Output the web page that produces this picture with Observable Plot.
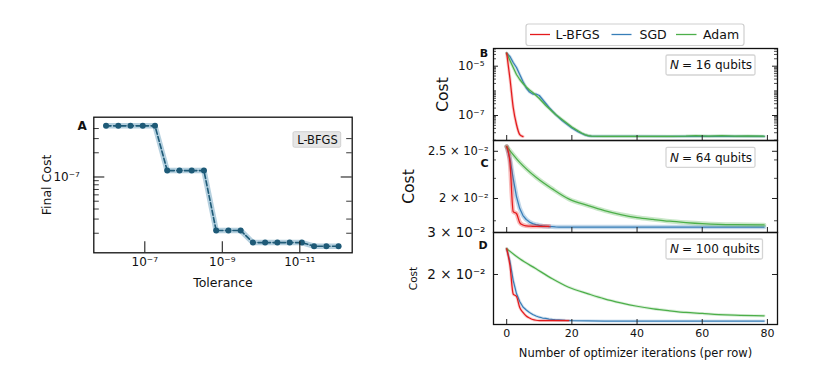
<!DOCTYPE html>
<html><head><meta charset="utf-8">
<script src="https://cdn.jsdelivr.net/npm/d3@7"></script>
<script src="https://cdn.jsdelivr.net/npm/@observablehq/plot@0.6"></script>
<style>
body{margin:0;background:#fff;}
#root{position:relative;width:830px;height:388px;background:#fff;font-family:"DejaVu Sans",sans-serif;}
#root svg{position:absolute;left:0;top:0;overflow:visible;}
</style></head><body><div id="root"></div>
<script>
// ---------------- DATA ----------------
// Panel A: final cost vs tolerance (L-BFGS)
const tolerances = [1e-6, 4.83e-7, 2.34e-7, 1.13e-7, 5.46e-8, 2.64e-8, 1.27e-8, 6.16e-9, 2.98e-9, 1.44e-9, 6.95e-10, 3.36e-10, 1.62e-10, 7.85e-11, 3.79e-11, 1.83e-11, 8.86e-12, 4.28e-12, 2.07e-12, 1e-12];
const finalCost = [4.32e-7, 4.32e-7, 4.32e-7, 4.32e-7, 4.32e-7, 1.20e-7, 1.20e-7, 1.20e-7, 1.20e-7, 2.16e-8, 2.16e-8, 2.16e-8, 1.53e-8, 1.53e-8, 1.53e-8, 1.53e-8, 1.53e-8, 1.38e-8, 1.38e-8, 1.38e-8];

// Panel B: N = 16 qubits
const itB_lbfgs = [0, 1, 2, 3, 4, 5];
const costB_lbfgs = [3.37e-5, 3.17e-6, 2.11e-7, 4.31e-8, 1.69e-8, 1.40e-8];
const itB_sgd = [0,1,2,3,4,5,6,7,8,9,10,11,12,13,14,15,16,17,18,19,20,21,22,23,24,25,26,30,40,50,60,70,79];
const costB_sgd = [3.37e-5, 2.47e-5, 1.41e-5, 8.86e-6, 4.60e-6, 2.39e-6, 1.30e-6, 8.98e-7, 7.45e-7, 7.45e-7, 6.48e-7, 4.46e-7, 3.07e-7, 2.11e-7, 1.52e-7, 1.10e-7, 8.30e-8, 6.27e-8, 4.96e-8, 3.93e-8, 3.11e-8, 2.58e-8, 2.14e-8, 1.86e-8, 1.62e-8, 1.50e-8, 1.45e-8, 1.43e-8, 1.43e-8, 1.42e-8, 1.43e-8, 1.43e-8, 1.42e-8];
const itB_adam = [0,1,2,3,4,5,6,7,8,9,10,11,12,13,14,15,16,17,18,19,20,21,22,23,24,25,26,30,40,50,55,58,62,66,70,74,79];
const costB_adam = [3.37e-5, 1.70e-5, 8.86e-6, 4.60e-6, 2.89e-6, 1.99e-6, 1.43e-6, 1.08e-6, 8.57e-7, 6.48e-7, 4.89e-7, 3.53e-7, 2.54e-7, 1.92e-7, 1.45e-7, 1.10e-7, 8.69e-8, 6.88e-8, 5.45e-8, 4.31e-8, 3.42e-8, 2.83e-8, 2.35e-8, 1.95e-8, 1.69e-8, 1.54e-8, 1.47e-8, 1.43e-8, 1.44e-8, 1.43e-8, 1.46e-8, 1.51e-8, 1.45e-8, 1.52e-8, 1.45e-8, 1.49e-8, 1.44e-8];

// Panel C: N = 64 qubits
const itC_lbfgs = [0,1,2,3,4,5,6,7,8,9,10,11,12,13];
const costC_lbfgs = [2.557e-2, 2.370e-2, 1.880e-2, 1.863e-2, 1.785e-2, 1.764e-2, 1.757e-2, 1.755e-2, 1.753e-2, 1.753e-2, 1.753e-2, 1.753e-2, 1.753e-2, 1.753e-2];
const itC_sgd = [0,1,2,3,4,5,6,7,8,9,10,11,12,13,14,15,16,20,30,40,50,60,70,79];
const costC_sgd = [2.557e-2, 2.415e-2, 2.197e-2, 2.018e-2, 1.907e-2, 1.845e-2, 1.811e-2, 1.789e-2, 1.776e-2, 1.768e-2, 1.762e-2, 1.757e-2, 1.754e-2, 1.751e-2, 1.750e-2, 1.748e-2, 1.747e-2, 1.747e-2, 1.747e-2, 1.747e-2, 1.747e-2, 1.747e-2, 1.747e-2, 1.747e-2];
const itC_adam = [0,4,9,14,19,25,30,35,40,45,50,55,60,65,70,79];
const costC_adam = [2.557e-2, 2.373e-2, 2.211e-2, 2.093e-2, 1.996e-2, 1.934e-2, 1.889e-2, 1.854e-2, 1.828e-2, 1.811e-2, 1.796e-2, 1.785e-2, 1.776e-2, 1.770e-2, 1.768e-2, 1.765e-2];

// Panel D: N = 100 qubits
const itD_lbfgs = [0,1,2,3,4,5,6,7,8,9,10,19];
const costD_lbfgs = [2.564e-2, 2.182e-2, 1.656e-2, 1.617e-2, 1.454e-2, 1.386e-2, 1.340e-2, 1.314e-2, 1.295e-2, 1.286e-2, 1.282e-2, 1.282e-2];
const itD_sgd = [0,1,2,3,4,5,6,7,8,9,10,11,12,13,14,15,16,18,20,25,30,40,50,60,70,79];
const costD_sgd = [2.564e-2, 2.267e-2, 1.888e-2, 1.664e-2, 1.541e-2, 1.461e-2, 1.420e-2, 1.386e-2, 1.359e-2, 1.340e-2, 1.324e-2, 1.314e-2, 1.308e-2, 1.301e-2, 1.296e-2, 1.292e-2, 1.290e-2, 1.285e-2, 1.282e-2, 1.279e-2, 1.276e-2, 1.276e-2, 1.276e-2, 1.276e-2, 1.276e-2, 1.276e-2];
const itD_adam = [0,4,9,14,19,25,30,35,40,45,50,55,60,65,70,79];
const costD_adam = [2.564e-2, 2.327e-2, 2.113e-2, 1.919e-2, 1.769e-2, 1.660e-2, 1.581e-2, 1.521e-2, 1.472e-2, 1.436e-2, 1.409e-2, 1.386e-2, 1.373e-2, 1.359e-2, 1.350e-2, 1.342e-2];

// Ticks and labels
const ticksA_x = [1e-7, 1e-9, 1e-11];
const labelsA_x = ["10\u207B\u2077", "10\u207B\u2079", "10\u207B\u00B9\u00B9"];
const ticksA_y = [1e-7];
const labelsA_y = ["10\u207B\u2077"];
const minorA_left = [4e-7, 3e-7, 2e-7, 9e-8, 8e-8, 7e-8, 6e-8, 5e-8, 4e-8, 3e-8, 2e-8];
const minorA_right = [3e-7, 2e-7, 5e-8, 3e-8, 2e-8];
const ticksIter = [0, 20, 40, 60, 80];
const ticksB_y = [1e-5, 1e-7];
const labelsB_y = ["10\u207B\u2075", "10\u207B\u2077"];
const ticksC_y = [2.5e-2, 2e-2];
const labelsC_y = ["2.5 \u00D7 10\u207B\u00B2", "2 \u00D7 10\u207B\u00B2"];
const minorC_y = [2.4e-2, 2.2e-2, 1.8e-2];
const ticksD_y = [3e-2, 2e-2];
const labelsD_y = ["3 \u00D7 10\u207B\u00B2", "2 \u00D7 10\u207B\u00B2"];

const methods = ["L-BFGS", "SGD", "Adam"];
const colors = ["#e41a1c", "#377eb8", "#4daf4a"];

// ---------------- LAYOUT ----------------
const W = 830, H = 388;
const FONT = "DejaVu Sans, sans-serif";
const svgNS = "http://www.w3.org/2000/svg";
const root = document.getElementById("root");
const TICK = "#222";

function rows(xs, ys) { return xs.map((x, i) => ({x, y: ys[i]})); }
function rectMark(x, y, w, h, fill, stroke, sw) {
  return () => {
    const r = document.createElementNS(svgNS, "rect");
    r.setAttribute("x", x); r.setAttribute("y", y);
    r.setAttribute("width", w); r.setAttribute("height", h);
    r.setAttribute("fill", fill); r.setAttribute("stroke", stroke);
    r.setAttribute("stroke-width", sw); r.setAttribute("rx", 1.5);
    return r;
  };
}
const baseStyle = {fontFamily: FONT, fontSize: "11px", background: "transparent", overflow: "visible", color: "#111"};

// ---------- Panel A ----------
{
  const L = 93.3, R = 351.7, T = 116.7, B = 252.3;
  const w = R - L, h = B - T;
  const dataA = rows(tolerances, finalCost);
  const colA = "#1e5a77";
  const p = Plot.plot({
    width: W, height: H,
    marginLeft: L, marginRight: W - R, marginTop: T, marginBottom: H - B,
    style: baseStyle,
    x: {type: "log", domain: [10 ** -5.684, 10 ** -12.352], axis: null},
    y: {type: "log", domain: [10 ** -7.942, 10 ** -6.257], axis: null},
    marks: [
      Plot.line(dataA, {x: "x", y: "y", stroke: "#a8c8d9", strokeWidth: 5.5, strokeOpacity: 0.85}),
      Plot.line(dataA, {x: "x", y: "y", stroke: colA, strokeWidth: 1.6, strokeDasharray: "5,2.5"}),
      Plot.dot(dataA, {x: "x", y: "y", r: 3, fill: colA}),
      // ticks (inward)
      Plot.ruleX(ticksA_x, {x: d => d, insetTop: h - 11, stroke: TICK, strokeWidth: 1.1}),
      Plot.ruleY(ticksA_y, {y: d => d, insetRight: w - 11, stroke: TICK, strokeWidth: 1.1}),
      Plot.ruleY(ticksA_y, {y: d => d, insetLeft: w - 11, stroke: TICK, strokeWidth: 1.1}),
      Plot.ruleY(minorA_left, {y: d => d, insetRight: w - 5.5, stroke: TICK, strokeWidth: 0.9}),
      Plot.ruleY(minorA_right, {y: d => d, insetLeft: w - 5.5, stroke: TICK, strokeWidth: 0.9}),
      // tick labels
      Plot.text(ticksA_x, {x: d => d, text: (d, i) => labelsA_x[i], frameAnchor: "bottom", lineAnchor: "top", dy: 5, fontSize: 12}),
      Plot.text(ticksA_y, {y: d => d, text: (d, i) => labelsA_y[i], frameAnchor: "left", textAnchor: "end", dx: -14, fontSize: 12}),
      // axis titles
      Plot.text(["Tolerance"], {frameAnchor: "bottom", lineAnchor: "middle", dy: 30.4, fontSize: 12.5}),
      Plot.text(["Final Cost"], {frameAnchor: "left", textAnchor: "middle", rotate: -90, dx: -46.6, fontSize: 12.5}),
      // panel letter
      Plot.text(["A"], {frameAnchor: "top-left", textAnchor: "middle", lineAnchor: "middle", dx: -11.6, dy: 8.5, fontWeight: "bold", fontSize: 12}),
      // annotation box
      rectMark(293, 131.7, 47.7, 15.5, "#e6e6e6", "#d0d0d0", 1),
      Plot.text(["L-BFGS"], {frameAnchor: "top-left", textAnchor: "middle", lineAnchor: "middle", dx: 317 - L, dy: 139.6 - T, fontSize: 11.5}),
      Plot.frame({stroke: "#111", strokeWidth: 1.3})
    ]
  });
  root.appendChild(p);
}

// ---------- Panels B, C, D ----------
const PL = 493, PR = 777;
const xDomain = [-4.05, 83.1];

function seriesMarks(its, costs, haloW, haloOp) {
  const marks = [];
  const order = [1, 2, 0]; // SGD, Adam, L-BFGS on top
  for (const k of order) {
    const d = rows(its[k], costs[k]);
    const curve = its[k].length < 20 ? "monotone-x" : "linear";
    marks.push(Plot.line(d, {x: "x", y: "y", stroke: colors[k], strokeWidth: haloW, strokeOpacity: haloOp, curve}));
    marks.push(Plot.line(d, {x: "x", y: "y", stroke: colors[k], strokeWidth: 1.25, curve}));
  }
  return marks;
}

function rightPanel(o) {
  const w = PR - PL, h = o.bottom - o.top;
  const marks = [
    ...seriesMarks(o.its, o.costs, o.haloW, o.haloOp),
    Plot.ruleX(ticksIter, {x: d => d, insetTop: h - 5, stroke: TICK, strokeWidth: 1}),
    Plot.ruleY(o.major, {y: d => d, insetRight: w - 5, stroke: TICK, strokeWidth: 1}),
    Plot.ruleY(o.major, {y: d => d, insetLeft: w - 5, stroke: TICK, strokeWidth: 1}),
    Plot.ruleY(o.minor, {y: d => d, insetRight: w - 3, stroke: TICK, strokeWidth: 0.8}),
    Plot.ruleY(o.minor, {y: d => d, insetLeft: w - 3, stroke: TICK, strokeWidth: 0.8}),
    Plot.text(o.major, {y: d => d, text: (d, i) => o.labels[i], frameAnchor: "left", textAnchor: "end", dx: -o.labelPad, fontSize: o.labelSize}),
    Plot.text(["Cost"], {frameAnchor: "left", textAnchor: "middle", rotate: -90, dx: o.costDx, fontSize: o.costSize}),
    Plot.text([o.letter], {frameAnchor: "top-left", textAnchor: "middle", lineAnchor: "middle", dx: o.letterX - PL, dy: o.letterY - o.top, fontWeight: "bold", fontSize: 11}),
    rectMark(666, o.boxY, o.boxW, 20, "#ffffff", "#d4d4d4", 1.3),
    Plot.text(["N"], {frameAnchor: "top-left", textAnchor: "start", lineAnchor: "middle", dx: 669.5 - PL, dy: o.boxY + 10 - o.top, fontStyle: "italic", fontSize: 12}),
    Plot.text([o.boxText], {frameAnchor: "top-left", textAnchor: "start", lineAnchor: "middle", dx: 681.5 - PL, dy: o.boxY + 10 - o.top, fontSize: 12})
  ];
  if (o.xLabels) {
    marks.push(Plot.text(ticksIter, {x: d => d, text: d => String(d), frameAnchor: "bottom", lineAnchor: "top", dy: 4.5, fontSize: 11}));
    marks.push(Plot.text(["Number of optimizer iterations (per row)"], {frameAnchor: "bottom", lineAnchor: "middle", dy: 28.7, fontSize: 11.5}));
  }
  marks.push(Plot.frame({stroke: "#111", strokeWidth: 1.3}));
  return Plot.plot({
    width: W, height: H,
    marginLeft: PL, marginRight: W - PR, marginTop: o.top, marginBottom: H - o.bottom,
    style: baseStyle,
    x: {domain: xDomain, axis: null},
    y: {type: "log", domain: o.yDomain, axis: null},
    marks
  });
}

// B minor ticks from the log scale's own tick generator
const yDomB = [10 ** -8.014, 10 ** -4.282];
const minorB = d3.scaleLog().domain(yDomB).ticks().filter(t => !ticksB_y.some(m => Math.abs(m - t) / m < 1e-6));

root.appendChild(rightPanel({
  top: 48, bottom: 140, yDomain: yDomB,
  its: [itB_lbfgs, itB_sgd, itB_adam], costs: [costB_lbfgs, costB_sgd, costB_adam],
  haloW: 3, haloOp: 0.25,
  major: ticksB_y, labels: labelsB_y, minor: minorB, labelPad: 9, labelSize: 12,
  costDx: -50, costSize: 15.5, letter: "B", letterX: 483.5, letterY: 52.5,
  boxY: 55, boxW: 89, boxText: "= 16 qubits", xLabels: false
}));
root.appendChild(rightPanel({
  top: 140, bottom: 232, yDomain: [10 ** -1.7688, 10 ** -1.5799],
  its: [itC_lbfgs, itC_sgd, itC_adam], costs: [costC_lbfgs, costC_sgd, costC_adam],
  haloW: 4.5, haloOp: 0.3,
  major: ticksC_y, labels: labelsC_y, minor: minorC_y, labelPad: 5, labelSize: 11.5,
  costDx: -84, costSize: 15.5, letter: "C", letterX: 484, letterY: 162.5,
  boxY: 147.3, boxW: 89, boxText: "= 64 qubits", xLabels: false
}));
root.appendChild(rightPanel({
  top: 232, bottom: 324, yDomain: [10 ** -1.9086, 10 ** -1.5229],
  its: [itD_lbfgs, itD_sgd, itD_adam], costs: [costD_lbfgs, costD_sgd, costD_adam],
  haloW: 3, haloOp: 0.2,
  major: ticksD_y, labels: labelsD_y, minor: [], labelPad: 8, labelSize: 13.5,
  costDx: -80, costSize: 10.5, letter: "D", letterX: 482.5, letterY: 245,
  boxY: 239, boxW: 96.5, boxText: "= 100 qubits", xLabels: true
}));

// ---------- Legend (above the panels) ----------
{
  const svg = d3.select(root).append("svg").attr("width", W).attr("height", H)
    .style("font-family", FONT);
  svg.append("rect").attr("x", 526).attr("y", 24).attr("width", 218).attr("height", 21.5)
    .attr("rx", 2.5).attr("fill", "#fff").attr("stroke", "#cfcfcf").attr("stroke-width", 1.2);
  const entries = [
    {x0: 530, x1: 550, tx: 555.5},
    {x0: 611.5, x1: 631.5, tx: 639.5},
    {x0: 676, x1: 696.5, tx: 703}
  ];
  entries.forEach((e, i) => {
    svg.append("line").attr("x1", e.x0).attr("x2", e.x1).attr("y1", 34.5).attr("y2", 34.5)
      .attr("stroke", colors[i]).attr("stroke-width", 1.3);
    svg.append("text").attr("x", e.tx).attr("y", 34.5).attr("dy", "0.35em")
      .attr("font-size", 12.5).attr("fill", "#111").text(methods[i]);
  });
}
</script></body></html>
